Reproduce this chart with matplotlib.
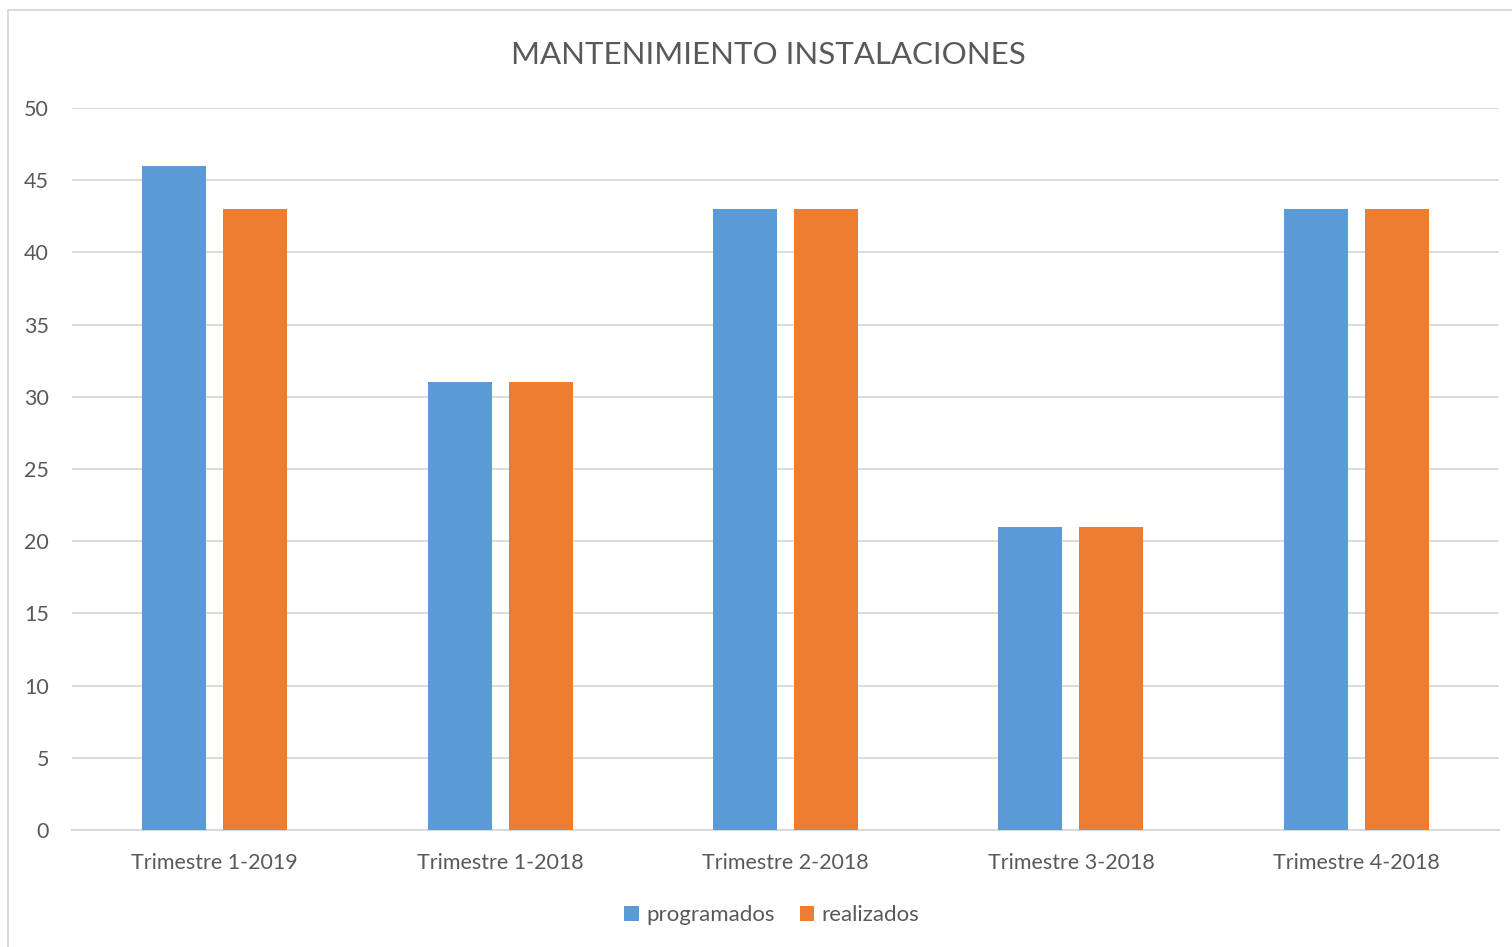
import matplotlib
matplotlib.use("Agg")
import matplotlib.pyplot as plt
import numpy as np
from matplotlib.patches import Rectangle

categories = ["Trimestre 1-2019", "Trimestre 1-2018", "Trimestre 2-2018", "Trimestre 3-2018", "Trimestre 4-2018"]
programados = [46, 31, 43, 21, 43]
realizados = [43, 31, 43, 21, 43]
title = "MANTENIMIENTO INSTALACIONES"

plt.rcParams['font.family'] = ['Lato', 'DejaVu Sans']
W, H = 1512, 947
fig = plt.figure(figsize=(W/100, H/100), dpi=100)
fig.patch.set_facecolor('white')
ax = fig.add_axes([72/W, (H-830)/H, (1499-72)/W, (830-108)/H])

x = np.arange(len(categories))
bw = 0.2246
off = 0.142
ax.bar(x - off, programados, bw, color='#5B9BD5', label='programados', zorder=3)
ax.bar(x + off, realizados, bw, color='#ED7D31', label='realizados', zorder=3)

ax.set_xlim(-0.5, len(categories) - 0.5)
ax.set_ylim(0, 50)
ax.set_yticks(range(0, 51, 5))
ax.yaxis.grid(True, color='#d9d9d9', linewidth=1.3, zorder=0)
ax.set_axisbelow(True)
for s in ['top', 'right', 'left']:
    ax.spines[s].set_visible(False)
ax.spines['bottom'].set_color('#d9d9d9')
ax.spines['bottom'].set_linewidth(1.5)
ax.set_xticks(x)
ax.set_xticklabels(categories)
ax.tick_params(axis='both', length=0, colors='#595959', labelsize=15.5)
ax.tick_params(axis='x', pad=16.5)
ax.tick_params(axis='y', pad=16.5)

fig.text(768/W, 1 - 55/H, title, ha='center', va='center', fontsize=22.5, color='#595959')

leg = fig.legend(loc='center', bbox_to_anchor=(772/W, 1 - 915/H), ncol=2, frameon=False,
                 fontsize=16, labelcolor='#595959', handlelength=0.65, handleheight=0.65,
                 handletextpad=0.35, columnspacing=1.1)

fig.add_artist(Rectangle((8/W, -0.01), 1.0, 1 - 10/H + 0.01, transform=fig.transFigure,
                         fill=False, edgecolor='#d9d9d9', linewidth=1.3))

fig.savefig('out.png', dpi=100)
